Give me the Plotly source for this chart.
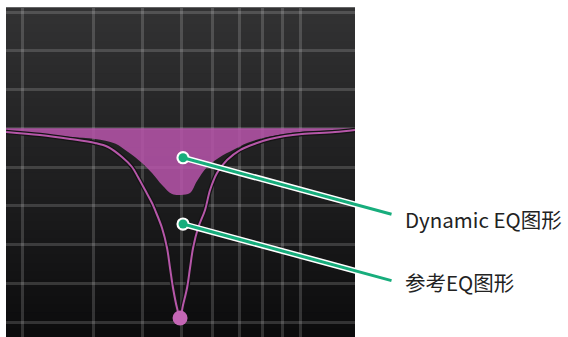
import math
import plotly.graph_objects as go

# dynamic EQ curve (lower edge of the filled area)
dyn_freq = [1813, 2207, 2626, 3035, 3407, 3674, 3984, 4221, 4473, 4740, 4993, 5260,
            5478, 5805, 6259, 6748, 7318, 8027, 9116, 9944, 11165, 12532, 13673]
dyn_gain = [-0.43, -0.89, -1.35, -1.66, -2.36, -3.68, -5.38, -6.93, -8.79, -10.18, -10.33, -10.03,
            -8.17, -6.00, -4.45, -3.37, -2.28, -1.51, -0.89, -0.58, -0.43, -0.27, -0.19]

# reference EQ curve (deep notch)
ref_freq = [1813, 2207, 2626, 3035, 3272, 3548, 3760, 3892, 4054, 4221, 4295, 4473, 4605,
            4685, 4767, 4879, 4965, 5051, 5170, 5260, 5353, 5510, 5738, 5907, 6151, 6517,
            7027, 7753, 8359, 9116, 10059, 12174, 13673]
ref_gain = [-0.58, -1.05, -1.66, -2.28, -2.90, -4.45, -6.00, -7.55, -9.56, -11.57, -12.65, -15.44, -18.54,
            -21.64, -24.73, -27.83, -29.38, -27.37, -24.73, -21.64, -18.54, -15.44, -12.65, -9.56, -6.93, -4.92,
            -3.37, -2.28, -1.66, -1.20, -0.89, -0.58, -0.27]

notch_freq = [4965]
notch_gain = [-29.38]

grid_freq = [2000, 3000, 4000, 5000, 6000, 7000, 8000, 9000, 10000]
grid_gain = [-30, -24, -18, -12, -6, 0, 6, 12, 18]

labels = ["Dynamic EQ图形", "参考EQ图形"]
label_freq = [5051, 5051]
label_gain = [-4.56, -14.83]

pink_fill = "rgba(185,85,172,0.85)"
pink_line = "#b657a9"
green = "#17ad7c"

fig = go.Figure()

# 0 dB baseline for the fill
fig.add_trace(go.Scatter(x=[dyn_freq[0], dyn_freq[-1]], y=[0, 0], mode="lines",
                         line=dict(width=0, color=pink_fill), hoverinfo="skip"))
fig.add_trace(go.Scatter(x=dyn_freq, y=dyn_gain, mode="lines", line_shape="spline",
                         line=dict(width=0, color=pink_fill), fill="tonexty",
                         fillcolor=pink_fill, hoverinfo="skip"))
# reference curve: dark outline + pink core
fig.add_trace(go.Scatter(x=ref_freq, y=ref_gain, mode="lines", line_shape="spline",
                         line=dict(width=4.5, color="#141414"), hoverinfo="skip"))
fig.add_trace(go.Scatter(x=ref_freq, y=ref_gain, mode="lines", line_shape="spline",
                         line=dict(width=2, color=pink_line), hoverinfo="skip"))
fig.add_trace(go.Scatter(x=notch_freq, y=notch_gain, mode="markers",
                         marker=dict(size=15, color="#c466b5"), hoverinfo="skip"))

# background gradient of the panel
n = 40
for i in range(n):
    t = i / n
    c = int(round(12 + (50 - 12) * (t + 0.5 / n)))
    fig.add_shape(type="rect", xref="paper", yref="paper", x0=0, x1=1,
                  y0=t, y1=t + 1.0 / n + 0.002, line_width=0,
                  fillcolor="rgb(%d,%d,%d)" % (c, c, c + 1), layer="below")

# leader lines with dots (annotation x on a log axis is given as log10)
for lab, fx, gy, ty in zip(labels, label_freq, label_gain, [0.3587, 0.1672]):
    lx = math.log10(fx)
    fig.add_annotation(x=lx, y=gy, xref="x", yref="y", text=" ", font=dict(size=1),
                       showarrow=True, ax=210, ay=57, arrowhead=6, arrowsize=0.55,
                       arrowwidth=6, arrowcolor="white", standoff=0, startstandoff=0)
    fig.add_annotation(x=lx, y=gy, xref="x", yref="y", text=" ", font=dict(size=1),
                       showarrow=True, ax=210, ay=57, arrowhead=6, arrowsize=0.75,
                       arrowwidth=3, arrowcolor=green, standoff=0, startstandoff=0)
    fig.add_annotation(x=1.1375, y=ty, xref="paper", yref="paper", text=lab,
                       showarrow=False, xanchor="left", yanchor="middle",
                       font=dict(family="Noto Sans CJK SC", size=20.5, color="#222222"))

fig.update_xaxes(type="log", range=[3.2583, 4.1358], tickvals=grid_freq,
                 showticklabels=False, showgrid=True, gridcolor="rgba(255,255,255,0.16)",
                 gridwidth=2.5, zeroline=False, showline=False, ticks="")
fig.update_yaxes(range=[-32.32, 18.62], tickvals=grid_gain, showticklabels=False,
                 showgrid=True, gridcolor="rgba(255,255,255,0.16)", gridwidth=2.5,
                 zeroline=False, showline=False, ticks="")
fig.update_layout(width=568, height=337, margin=dict(l=6, r=213, t=8, b=0),
                  paper_bgcolor="white", plot_bgcolor="#1e1e1e", showlegend=False)

fig.write_html("out.html", config={"displayModeBar": False},
               post_script="document.body.style.margin='0px';")
